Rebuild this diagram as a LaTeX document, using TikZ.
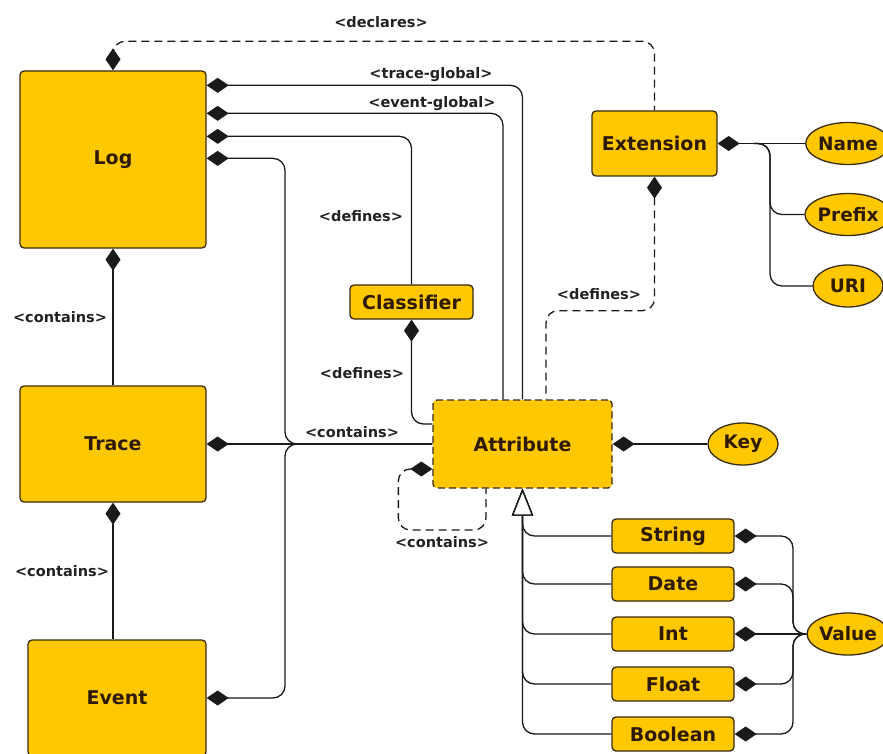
\documentclass[tikz,border=0pt]{standalone}
\usepackage{fontspec}
\setmainfont{DejaVu Sans}
\usetikzlibrary{arrows.meta,shapes.geometric,calc}
\definecolor{boxfill}{HTML}{FFC800}
\definecolor{boxline}{HTML}{3A2A10}
\definecolor{boxtext}{HTML}{2E1A00}
\definecolor{wirecol}{HTML}{1A1A1A}
\definecolor{labeltext}{HTML}{222222}

\begin{document}
\begin{tikzpicture}[x=1pt,y=-1pt,
  entity/.style={draw=boxline, fill=boxfill, line width=1.3pt, rounded corners=4pt,
    text=boxtext, font=\bfseries\fontsize{19}{21}\selectfont, inner sep=0pt},
  prop/.style={ellipse, draw=boxline, fill=boxfill, line width=1.3pt, text=boxtext,
    font=\bfseries\fontsize{18.5}{20}\selectfont, inner sep=0pt,
    minimum width=70pt, minimum height=42pt},
  valtype/.style={entity, minimum width=122pt, minimum height=34pt},
  lbl/.style={font=\bfseries\fontsize{14.5}{16}\selectfont, text=labeltext, inner sep=0pt},
  wire/.style={draw=wirecol, line width=1.3pt, rounded corners=12pt},
  comp/.style={wire, {Diamond[length=22pt,width=15pt,fill=wirecol]}-},
  dashwire/.style={dash pattern=on 8pt off 5pt},
  gen/.style={wire, -{Triangle[length=27pt,width=21pt,fill=white]}}
]
\useasboundingbox (0,0) rectangle (883,754);
\fill[white] (0,0) rectangle (883,754);

% main entities
\node[entity, minimum width=186pt, minimum height=177pt] (log) at (113,159.5) {Log};
\node[entity, minimum width=186pt, minimum height=116pt] (trace) at (113,444) {Trace};
\node[entity, minimum width=178pt, minimum height=116pt] (event) at (117,698) {Event};
\node[entity, minimum width=123pt, minimum height=34pt] (classifier) at (411.5,302) {Classifier};
\node[entity, dash pattern=on 7pt off 4pt, minimum width=179pt, minimum height=88pt] (attribute) at (522.5,444) {Attribute};
\node[entity, minimum width=125pt, minimum height=65pt] (extension) at (654.5,143.5) {Extension};

% properties
\node[prop] (name) at (848,143.5) {Name};
\node[prop] (prefix) at (848,214.5) {Prefix};
\node[prop] (uri) at (848,286) {URI};
\node[prop] (key) at (743,444) {Key};
\node[prop] (value) at (848,634) {Value};

% attribute value types
\node[valtype] (string) at (673,536) {String};
\node[valtype] (date) at (673,584) {Date};
\node[valtype] (int) at (673,634) {Int};
\node[valtype] (float) at (673,684) {Float};
\node[valtype] (boolean) at (673,734) {Boolean};

% junction points
\coordinate (merge) at (285,444);
\coordinate (extbus) at (770,143.5);
\coordinate (valbus) at (793,634);

% log relations
\draw[comp, dashwire] (log.north) -- ++(0,-29) -| (extension.north);
\draw[comp] ([yshift=-15pt]log.north east) -| (attribute.north);
\draw[comp] ([yshift=-43pt]log.north east) -| ([xshift=-19.5pt]attribute.north);
\draw[comp] ([yshift=-66pt]log.north east) -| (classifier.north);
\draw[comp] ([yshift=-88pt]log.north east) -| (merge) -- (attribute.west);
\draw[comp] (log.south) -- (trace.north);
\draw[comp] (trace.south) -- (trace.south |- event.north);
\draw[comp] (trace.east) -- (attribute.west);
\draw[comp] (event.east) -| (merge) -- (attribute.west);

% classifier and attribute relations
\draw[comp] (classifier.south) |- ([yshift=20pt]attribute.west);
\draw[comp, dashwire] ([yshift=-25pt]attribute.west) -- ++(-34,0) -- ++(0,61) -| ([xshift=-36.5pt]attribute.south);
\draw[comp, dashwire] (extension.south) -- ++(0,134) -| ([xshift=23.5pt]attribute.north);
\draw[comp] (attribute.east) -- (key.west);

% extension properties
\draw[comp] (extension.east) -- (name.west);
\draw[wire] ([xshift=-16pt]extbus) -- (extbus) |- (prefix.west);
\draw[wire] ([xshift=-16pt]extbus) -- (extbus) |- (uri.west);

% value types
\draw[comp] (string.east) -| (valbus) -- (value.west);
\draw[comp] (date.east) -| (valbus) -- (value.west);
\draw[comp] (int.east) -- (value.west);
\draw[comp] (float.east) -| (valbus) -- (value.west);
\draw[comp] (boolean.east) -| (valbus) -- (value.west);

% generalisation
\draw[gen] (string.west) -| (attribute.south);
\draw[gen] (date.west) -| (attribute.south);
\draw[gen] (int.west) -| (attribute.south);
\draw[gen] (float.west) -| (attribute.south);
\draw[gen] (boolean.west) -| (attribute.south);

% relation labels
\node[lbl] (l-declares) at (381,22) {<declares>};
\node[lbl] (l-tglobal) at (431,75) {<trace-global>};
\node[lbl] (l-eglobal) at (432,104) {<event-global>};
\node[lbl] (l-defcls) at (361,216) {<defines>};
\node[lbl] (l-defattr) at (362,373) {<defines>};
\node[lbl] (l-logtrace) at (60,317) {<contains>};
\node[lbl] (l-traceevent) at (62,571) {<contains>};
\node[lbl] (l-contattr) at (352,432) {<contains>};
\node[lbl] (l-self) at (442,542) {<contains>};
\node[lbl] (l-defext) at (599,294) {<defines>};
\end{tikzpicture}
\end{document}
